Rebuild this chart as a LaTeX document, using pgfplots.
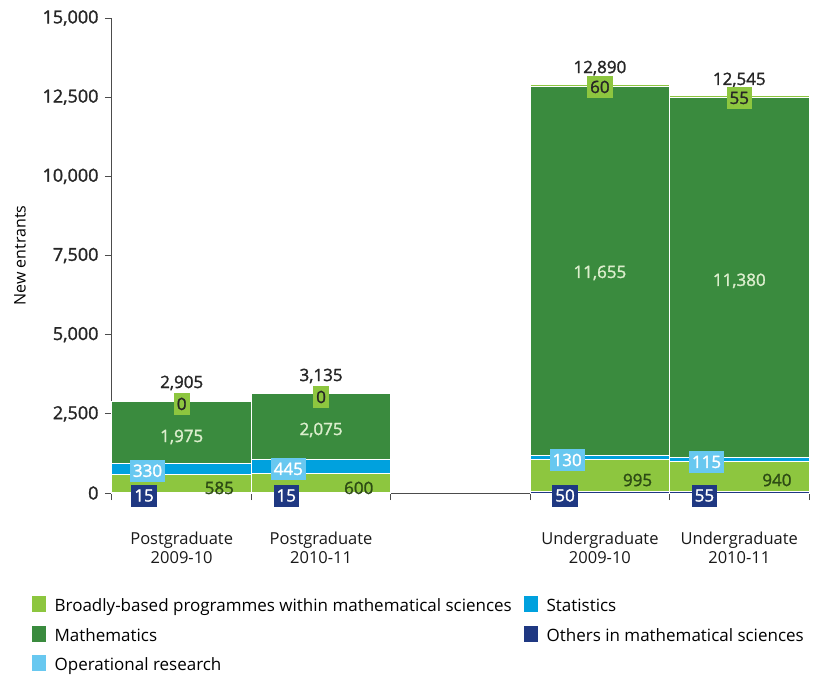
\documentclass[border=0pt]{standalone}
\usepackage{fontspec}
\setmainfont{Open Sans}
\newfontfamily\semib{Open Sans}[FakeBold=1.5]
\usepackage{pgfplots}
\usepackage{pgfplotstable}
\pgfplotsset{compat=1.18}

\definecolor{cBroad}{RGB}{141,198,63}
\definecolor{cMath}{RGB}{58,139,62}
\definecolor{cStat}{RGB}{0,161,222}
\definecolor{cOR}{RGB}{104,200,240}
\definecolor{cOther}{RGB}{31,56,130}
\definecolor{cDarkTxt}{RGB}{45,75,20}
\definecolor{cPaleTxt}{RGB}{220,238,205}

% x: 0,1 = postgraduate, 3,4 = undergraduate
\pgfplotstableread{
x others broad stats maths top
0 15 585 330 1975 0
1 15 600 445 2075 0
3 50 995 130 11655 60
4 55 940 115 11380 55
}\entrants

\newcommand\boxlab[4]{\node[fill=#1,text=#2,inner xsep=3pt,inner ysep=5pt,text height=12pt,text depth=0pt,font=\semib\fontsize{17}{20}\selectfont] at (axis cs:#3) {#4};}
\newcommand\txtlab[3]{\node[text=#1,font=\semib\fontsize{17}{20}\selectfont] at (axis cs:#2) {#3};}

% value labels, drawn after the bars
\newcommand\barlabels{%
% totals
\txtlab{black!85}{0,3475}{2,905}
\txtlab{black!85}{1,3695}{3,135}
\txtlab{black!85}{3,13420}{12,890}
\txtlab{black!85}{4,13045}{12,545}
% top segment
\boxlab{cBroad}{black!85}{0,2810}{0}
\boxlab{cBroad}{black!85}{1,3030}{0}
\boxlab{cBroad}{black!85}{3,12820}{60}
\boxlab{cBroad}{black!85}{4,12475}{55}
% mathematics
\txtlab{cPaleTxt}{0,1770}{1,975}
\txtlab{cPaleTxt}{1,1990}{2,075}
\txtlab{cPaleTxt}{3,6950}{11,655}
\txtlab{cPaleTxt}{4,6700}{11,380}
% statistics band
\boxlab{cOR}{white}{-0.245,700}{330}
\boxlab{cOR}{white}{0.765,760}{445}
\boxlab{cOR}{white}{2.765,1040}{130}
\boxlab{cOR}{white}{3.765,980}{115}
% broadly-based
\txtlab{cDarkTxt}{0.27,160}{585}
\txtlab{cDarkTxt}{1.27,160}{600}
\txtlab{cDarkTxt}{3.27,410}{995}
\txtlab{cDarkTxt}{4.27,410}{940}
% others
\boxlab{cOther}{white}{-0.27,-80}{15}
\boxlab{cOther}{white}{0.75,-80}{15}
\boxlab{cOther}{white}{2.75,-80}{50}
\boxlab{cOther}{white}{3.75,-80}{55}
}

\begin{document}
\begin{tikzpicture}
\begin{axis}[
  width=697pt, height=475pt, scale only axis,
  xmin=-0.5, xmax=4.5, ymin=0, ymax=15000,
  ybar stacked, bar width=1,
  clip=false,
  axis x line*=bottom, axis y line*=left,
  axis line style={black!70, line width=1pt},
  tick align=outside, major tick length=7pt,
  tick style={black!70, line width=1pt},
  ytick={0,2500,...,15000},
  scaled y ticks=false,
  /pgf/number format/1000 sep={,},
  /pgf/number format/assume math mode=true,
  yticklabel style={font=\semib\fontsize{18}{20}\selectfont, text=black!85, xshift=-3pt},
  xtick={-0.5,0.5,1.5,2.5,3.5,4.5}, xticklabels={},
  extra x ticks={0,1,3,4},
  extra x tick labels={{Postgraduate\\2009-10},{Postgraduate\\2010-11},{Undergraduate\\2009-10},{Undergraduate\\2010-11}},
  extra x tick style={major tick length=0pt,
    tick label style={align=center, yshift=-35pt, font=\fontsize{16.5}{19}\selectfont, text=black!90}},
  ylabel={New entrants},
  ylabel style={at={(axis description cs:-0.132,0.5)}, anchor=center, font=\fontsize{16}{18}\selectfont},
  legend style={at={(-0.117,-0.215)}, anchor=north west, draw=none, fill=none,
    inner sep=0pt, legend columns=2, row sep=9pt,
    font=\fontsize{17}{20}\selectfont,
    nodes={inner sep=0pt, text height=12pt, text depth=4pt},
    /tikz/every odd column/.append style={column sep=8pt},
    /tikz/every even column/.append style={column sep=10pt}},
  legend cell align=left,
  legend image code/.code={\fill[#1] (0pt,-5pt) rectangle (15pt,12pt);},
  every axis plot/.append style={draw=white, line width=1pt},
  after end axis/.code={\barlabels},
]
\addlegendimage{fill=cBroad}
\addlegendentry{\makebox[458pt][l]{Broadly-based programmes within mathematical sciences}}
\addlegendimage{fill=cStat}
\addlegendentry{Statistics}
\addlegendimage{fill=cMath}
\addlegendentry{Mathematics}
\addlegendimage{fill=cOther}
\addlegendentry{Others in mathematical sciences}
\addlegendimage{fill=cOR}
\addlegendentry{Operational research}

\addplot[fill=cOther] table[x=x, y=others] {\entrants};
\addplot[fill=cBroad] table[x=x, y=broad] {\entrants};
\addplot[fill=cStat] table[x=x, y=stats] {\entrants};
\addplot[fill=cMath] table[x=x, y=maths] {\entrants};
\addplot[fill=cBroad] table[x=x, y=top] {\entrants};
\end{axis}
\pgfresetboundingbox
\path[use as bounding box] (current axis.south west) ++(-112pt,-182pt) rectangle ++(827pt,675pt);
\end{tikzpicture}
\end{document}
